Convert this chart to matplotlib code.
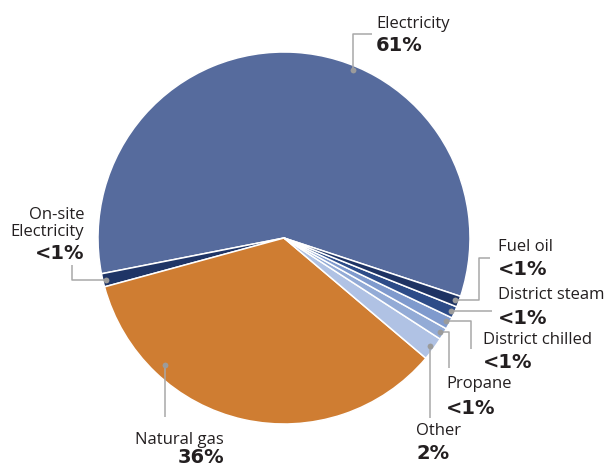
import numpy as np
import matplotlib
matplotlib.use("Agg")
import matplotlib.pyplot as plt

plt.rcParams["font.family"] = ["Open Sans", "DejaVu Sans"]

# slice order goes counter-clockwise (on screen) starting just below 3 o'clock
sources = ["Electricity", "On-site\nElectricity", "Natural gas", "Other",
           "Propane", "District chilled", "District steam", "Fuel oil"]
shares = [58.2, 1.15, 34.6, 2.05, 1.03, 1.05, 1.03, 0.95]  # slice sizes
pct_labels = ["61%", "<1%", "36%", "2%", "<1%", "<1%", "<1%", "<1%"]
colors = ["#566b9d", "#1f3566", "#cf7d32", "#b0c2e4",
          "#93abd6", "#7f9acd", "#2d4c88", "#1e3363"]

TXT = "#231f20"
LEAD = "#a8a8a8"

fig = plt.figure(figsize=(6.07, 4.68), dpi=100)
ax = fig.add_axes([0, 0, 1, 1])

cx, cy, R = 284, 238, 186
# y axis runs downward (pixel coords), so clockwise in data = counter-clockwise on screen
wedges, _ = ax.pie(
    shares,
    colors=colors,
    center=(cx, cy),
    radius=R,
    startangle=18.3,
    counterclock=False,
    wedgeprops=dict(edgecolor="white", linewidth=1.1),
    frame=True,
)
ax.set_xlim(0, 607)
ax.set_ylim(468, 0)
ax.set_aspect("equal")
ax.axis("off")

# where on the slice the leader dot sits: (fraction along slice, fraction of radius)
dot_pos = [(0.41, 0.978), (0.5, 0.985), (0.253, 0.935), (0.5, 0.978),
           (0.5, 0.978), (0.5, 0.978), (0.5, 0.978), (0.5, 0.978)]


def dot_xy(i):
    w = wedges[i]
    f, rf = dot_pos[i]
    th = np.deg2rad(w.theta2 - f * (w.theta2 - w.theta1))
    return cx + rf * R * np.cos(th), cy + rf * R * np.sin(th)


# leader line elbows (None = keep the dot's coordinate)
paths = {
    0: [(None, 34), (372, 34)],
    1: [(72, None), (72, 265)],
    2: [(None, 417)],
    3: [(None, 418)],
    4: [(449, None), (449, 368)],
    5: [(471, None), (471, 349)],
    6: [(492, None)],
    7: [(479, None), (479, 258), (490, 258)],
}

for i in range(len(sources)):
    x0, y0 = dot_xy(i)
    xs, ys = [x0], [y0]
    for px, py in paths[i]:
        xs.append(x0 if px is None else px)
        ys.append(y0 if py is None else py)
    ax.plot(xs, ys, color=LEAD, lw=1.1, solid_capstyle="butt", zorder=3)
    ax.plot(x0, y0, "o", ms=4.2, color="#9b9b9b", mec="none", zorder=4)

# label anchors: x, name baseline, pct baseline, alignment
label_pos = [
    (376, 28, 51, "left"),
    (84, 235.7, 259.3, "right"),
    (224, 444.3, 463.3, "right"),
    (416, 435, 459, "left"),
    (446, 388, 414, "left"),
    (483, 344, 368, "left"),
    (497.5, 299.3, 324, "left"),
    (497.5, 251, 275, "left"),
]

for name, pct, (x, yn, yp, ha) in zip(sources, pct_labels, label_pos):
    ax.text(x, yn, name, ha=ha, va="baseline", fontsize=12, color=TXT,
            linespacing=1.05, multialignment=ha)
    ax.text(x, yp, pct, ha=ha, va="baseline", fontsize=14, fontweight="bold",
            color=TXT, family="DejaVu Sans")

fig.savefig("out.png", dpi=100)
